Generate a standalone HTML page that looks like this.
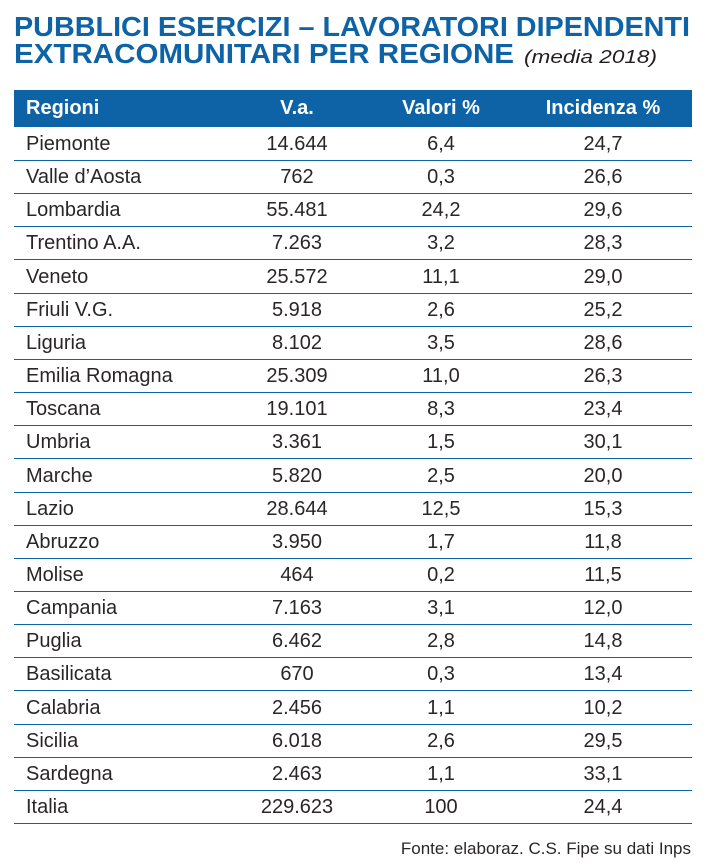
<!DOCTYPE html>
<html><head><meta charset="utf-8"><style>
html,body{margin:0;padding:0;background:#fff;width:705px;height:863px;overflow:hidden}
body{position:relative;font-family:"Liberation Sans",sans-serif;color:#2a2627}
.hdr{position:absolute;left:14px;top:90px;width:678px;height:37px;background:#0d63a5}
.h{position:absolute;top:90px;height:37px;line-height:37px;color:#fff;font-weight:bold;font-size:20px}
.row{position:absolute;left:14px;width:678px;height:33px;border-bottom:1.5px solid #0d63a5;font-size:20px;line-height:34px}
.row span{position:absolute;top:0}
.c1{left:12px}
.c2{left:223px;width:120px;text-align:center}
.c3{left:367px;width:120px;text-align:center}
.c4{left:529px;width:120px;text-align:center}
</style></head><body>
<svg width="705" height="80" style="position:absolute;left:0;top:0">
<text x="14" y="36" fill="#0d63a5" font-family="Liberation Sans" font-weight="bold" font-size="28" textLength="676" lengthAdjust="spacingAndGlyphs">PUBBLICI ESERCIZI – LAVORATORI DIPENDENTI</text>
<text x="14" y="63" fill="#0d63a5" font-family="Liberation Sans" font-weight="bold" font-size="28" textLength="500" lengthAdjust="spacingAndGlyphs">EXTRACOMUNITARI PER REGIONE</text>
<text x="524" y="63" fill="#231f20" font-family="Liberation Sans" font-style="italic" font-size="18" textLength="133" lengthAdjust="spacingAndGlyphs">(media 2018)</text>
</svg>
<div class="hdr"></div>
<div class="h" style="left:26px">Regioni</div>
<div class="h" style="left:237px;width:120px;text-align:center">V.a.</div>
<div class="h" style="left:381px;width:120px;text-align:center">Valori %</div>
<div class="h" style="left:543px;width:120px;text-align:center">Incidenza %</div>
<div id="t"></div>
<div style="position:absolute;right:14px;top:839px;font-size:17px">Fonte: elaboraz. C.S. Fipe su dati Inps</div>
<script>
var d=[["Piemonte","14.644","6,4","24,7"],["Valle d’Aosta","762","0,3","26,6"],["Lombardia","55.481","24,2","29,6"],["Trentino A.A.","7.263","3,2","28,3"],["Veneto","25.572","11,1","29,0"],["Friuli V.G.","5.918","2,6","25,2"],["Liguria","8.102","3,5","28,6"],["Emilia Romagna","25.309","11,0","26,3"],["Toscana","19.101","8,3","23,4"],["Umbria","3.361","1,5","30,1"],["Marche","5.820","2,5","20,0"],["Lazio","28.644","12,5","15,3"],["Abruzzo","3.950","1,7","11,8"],["Molise","464","0,2","11,5"],["Campania","7.163","3,1","12,0"],["Puglia","6.462","2,8","14,8"],["Basilicata","670","0,3","13,4"],["Calabria","2.456","1,1","10,2"],["Sicilia","6.018","2,6","29,5"],["Sardegna","2.463","1,1","33,1"],["Italia","229.623","100","24,4"]];
var h="";d.forEach(function(r,i){h+='<div class="row" style="top:'+(127+i*33.15).toFixed(1)+'px"><span class="c1">'+r[0]+'</span><span class="c2">'+r[1]+'</span><span class="c3">'+r[2]+'</span><span class="c4">'+r[3]+'</span></div>';});
document.getElementById("t").innerHTML=h;
</script>
</body></html>
